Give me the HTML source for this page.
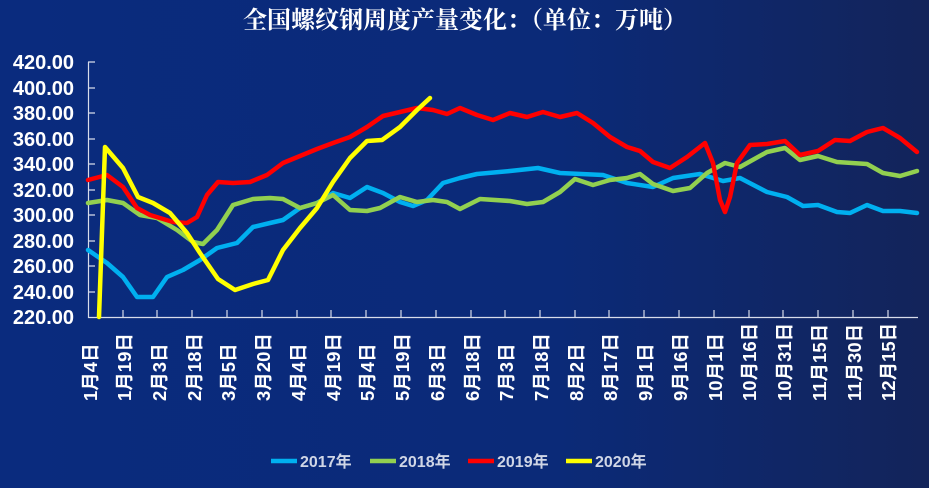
<!DOCTYPE html>
<html><head><meta charset="utf-8"><style>
html,body{margin:0;padding:0}
body{width:929px;height:488px;overflow:hidden;background:linear-gradient(90deg,#0a2b7e 0%,#0b2a78 60%,#13245a 100%);font-family:"Liberation Sans","Noto Sans CJK SC",sans-serif}
</style></head><body>
<svg width="929" height="488" viewBox="0 0 929 488" xmlns="http://www.w3.org/2000/svg" style="position:absolute;left:0;top:0">
<text x="465" y="28" fill="#fff" font-size="24" font-weight="bold" text-anchor="middle" font-family="Liberation Serif,'Noto Serif CJK SC',serif">全国螺纹钢周度产量变化：（单位：万吨）</text>
<g fill="#fff" font-size="20" font-weight="bold" text-anchor="end">
<text x="74" y="69">420.00</text><text x="74" y="95">400.00</text><text x="74" y="120">380.00</text><text x="74" y="146">360.00</text><text x="74" y="171">340.00</text><text x="74" y="197">320.00</text><text x="74" y="222">300.00</text><text x="74" y="248">280.00</text><text x="74" y="273">260.00</text><text x="74" y="299">240.00</text><text x="74" y="324">220.00</text>
</g>
<g stroke="#d8dcea" stroke-width="1.2" fill="none">
<path d="M88.5 62V317.5H918"/>
<path d="M88 62h7M88 88h7M88 113h7M88 139h7M88 164h7M88 190h7M88 215h7M88 241h7M88 266h7M88 292h7"/>
<path d="M123 310v7M157 310v7M192 310v7M227 310v7M262 310v7M297 310v7M331 310v7M366 310v7M401 310v7M436 310v7M471 310v7M505 310v7M540 310v7M575 310v7M609 310v7M644 310v7M679 310v7M714 310v7M749 310v7M783 310v7M818 310v7M853 310v7M888 310v7"/>
</g>
<g fill="#fff" font-size="18.5" font-weight="bold">
<text transform="translate(97,401) rotate(-90)">1月4日</text>
<text transform="translate(131,401) rotate(-90)">1月19日</text>
<text transform="translate(166,401) rotate(-90)">2月3日</text>
<text transform="translate(201,401) rotate(-90)">2月18日</text>
<text transform="translate(235,401) rotate(-90)">3月5日</text>
<text transform="translate(270,401) rotate(-90)">3月20日</text>
<text transform="translate(305,401) rotate(-90)">4月4日</text>
<text transform="translate(340,401) rotate(-90)">4月19日</text>
<text transform="translate(374,401) rotate(-90)">5月4日</text>
<text transform="translate(409,401) rotate(-90)">5月19日</text>
<text transform="translate(444,401) rotate(-90)">6月3日</text>
<text transform="translate(479,401) rotate(-90)">6月18日</text>
<text transform="translate(513,401) rotate(-90)">7月3日</text>
<text transform="translate(548,401) rotate(-90)">7月18日</text>
<text transform="translate(583,401) rotate(-90)">8月2日</text>
<text transform="translate(617,401) rotate(-90)">8月17日</text>
<text transform="translate(652,401) rotate(-90)">9月1日</text>
<text transform="translate(687,401) rotate(-90)">9月16日</text>
<text transform="translate(722,401) rotate(-90)">10月1日</text>
<text transform="translate(756,401) rotate(-90)">10月16日</text>
<text transform="translate(791,401) rotate(-90)">10月31日</text>
<text transform="translate(826,401) rotate(-90)">11月15日</text>
<text transform="translate(861,401) rotate(-90)">11月30日</text>
<text transform="translate(895,401) rotate(-90)">12月15日</text>
</g>
<g fill="none" stroke-width="4.5" stroke-linejoin="round" stroke-linecap="round">
<polyline stroke="#00b0f0" points="88,250 107,263 123,277 137,297 153,297 167,277 183,270 200,260 217,248 237,243 253,227 270,223 283,220 300,208 317,203 333,193 350,198 367,187 383,193 400,202 413,206 427,200 443,183 460,178 477,174 510,171 538,168 560,173 603,175 627,183 653,187 673,178 700,174 723,181 740,178 767,192 787,197 803,206 818,205 837,212 850,213 867,205 883,211 900,211 917,213"/>
<polyline stroke="#92d050" points="88,203 107,200 123,203 140,215 157,218 177,230 193,242 203,244 217,230 233,205 253,199 270,198 283,199 300,208 317,203 333,195 350,210 367,211 380,208 400,197 417,202 433,200 447,202 460,209 480,199 510,201 527,204 543,202 560,192 575,179 593,185 610,180 627,178 640,174 653,184 673,191 690,188 707,173 725,163 740,167 767,152 785,148 800,160 818,156 837,162 867,164 883,173 900,176 917,171"/>
<polyline stroke="#ff0000" points="88,180 107,175 123,187 137,208 150,215 173,222 187,223 197,217 207,195 218,182 233,183 250,182 267,175 283,163 300,156 317,149 333,143 350,137 367,127 383,116 400,112 417,108 433,110 447,114 460,108 477,115 493,120 510,113 527,117 543,112 560,117 577,113 593,123 610,137 627,147 640,151 653,162 670,168 687,157 705,143 713,163 720,200 725,212 730,197 737,163 750,145 767,144 785,141 800,155 818,151 835,140 850,141 867,132 883,128 900,138 917,152"/>
<polyline stroke="#ffff00" points="99,317 105,147 123,168 138,197 153,203 170,213 187,233 200,253 218,279 235,290 253,284 268,280 283,250 300,228 317,208 333,182 350,158 367,141 382,140 400,127 417,110 430,98"/>
</g>
<g font-size="16" font-weight="bold" fill="#d0d6e6">
<line x1="271" y1="461" x2="297" y2="461" stroke="#00b0f0" stroke-width="4.5"/><text x="300" y="467">2017年</text>
<line x1="370" y1="461" x2="396" y2="461" stroke="#92d050" stroke-width="4.5"/><text x="399" y="467">2018年</text>
<line x1="468" y1="461" x2="494" y2="461" stroke="#ff0000" stroke-width="4.5"/><text x="497" y="467">2019年</text>
<line x1="566" y1="461" x2="592" y2="461" stroke="#ffff00" stroke-width="4.5"/><text x="595" y="467">2020年</text>
</g>
</svg>
</body></html>
